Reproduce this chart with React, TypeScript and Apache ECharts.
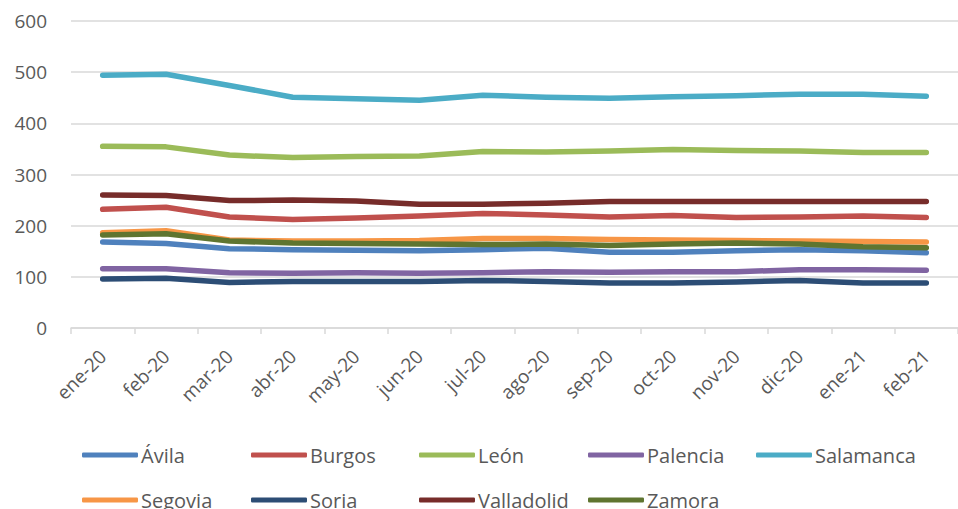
import React, { useEffect, useRef } from "react";
import * as echarts from "echarts";

const categories = ["ene-20","feb-20","mar-20","abr-20","may-20","jun-20","jul-20","ago-20","sep-20","oct-20","nov-20","dic-20","ene-21","feb-21"];

const avila = [168,165,155,153,152,151,153,156,148,148,151,153,151,147];
const burgos = [232,236,217,212,215,219,224,221,217,220,216,217,219,216];
const leon = [355,354,338,333,335,336,345,344,346,349,347,346,343,343];
const palencia = [116,116,108,107,108,107,108,110,109,110,110,114,114,113];
const salamanca = [494,496,474,451,448,445,455,451,449,452,454,457,457,453];
const segovia = [186,190,172,170,170,171,175,175,173,172,171,170,169,168];
const soria = [96,97,89,91,91,91,93,91,88,88,90,93,88,88];
const valladolid = [260,259,249,250,248,242,242,244,247,247,247,247,247,247];
const zamora = [182,184,170,166,165,164,163,164,161,164,166,164,159,157];

const seriesNames = ["Ávila","Burgos","León","Palencia","Salamanca","Segovia","Soria","Valladolid","Zamora"];
const seriesData = [avila,burgos,leon,palencia,salamanca,segovia,soria,valladolid,zamora];
const colors = ["#4f81bd","#c0504d","#9bbb59","#8064a2","#4bacc6","#f79646","#2c4d75","#772c2a","#5f7530"];

const FONT = "'Open Sans', sans-serif";

export default function App() {
  const ref = useRef<HTMLDivElement>(null);
  useEffect(() => {
    document.body.style.margin = "0";
    const chart = echarts.init(ref.current!, null, { renderer: "svg" });
    const legends = seriesNames.map((name, i) => ({
      data: [name],
      left: Math.round(82 + (i % 5) * 168.5),
      top: i < 5 ? 445 : 490,
      icon: "roundRect",
      itemWidth: 56,
      itemHeight: 5,
      itemGap: 0,
      padding: 0,
      textStyle: { color: "#595959", fontSize: 20, fontFamily: FONT, padding: [0, 0, 0, -2] },
    }));
    chart.setOption({
      animation: false,
      color: colors,
      grid: { left: 71, top: 21, width: 901, height: 307, containLabel: false },
      legend: legends,
      xAxis: {
        type: "category",
        data: categories,
        boundaryGap: true,
        axisLine: { lineStyle: { color: "#d9d9d9", width: 1.5 } },
        axisTick: { show: true, length: 6, lineStyle: { color: "#d9d9d9", width: 1.5 } },
        axisLabel: { rotate: 45, color: "#595959", fontSize: 19, fontFamily: FONT, margin: 25, interval: 0 },
      },
      yAxis: {
        type: "value",
        min: 0,
        max: 600,
        interval: 100,
        axisLine: { show: false },
        axisTick: { show: false },
        splitLine: { lineStyle: { color: "#d9d9d9", width: 1.5 } },
        axisLabel: { color: "#595959", fontSize: 19, fontFamily: FONT, margin: 24 },
      },
      series: seriesNames.map((name, i) => ({
        name,
        type: "line",
        data: seriesData[i],
        showSymbol: false,
        symbol: "none",
        lineStyle: { width: 5.5, color: colors[i], cap: "round", join: "round" },
        itemStyle: { color: colors[i] },
      })),
    });
    return () => chart.dispose();
  }, []);
  return <div ref={ref} style={{ width: 958, height: 509 }} />;
}
